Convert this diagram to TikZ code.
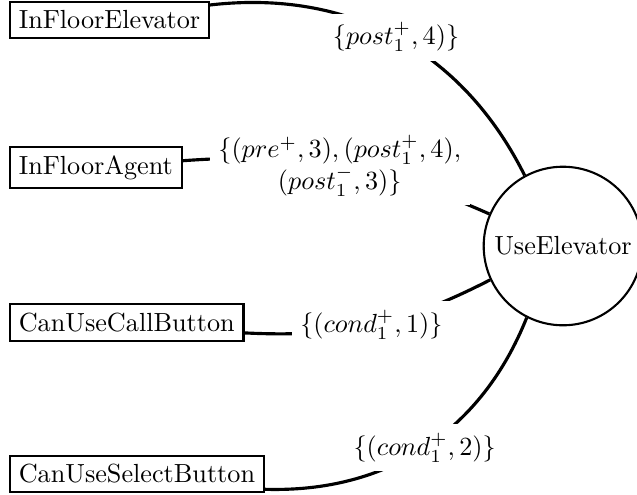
\documentclass[tikz,border=0pt]{standalone}
\usepackage{amsmath,amssymb}
\usepackage{tikz}
\usetikzlibrary{positioning}
\usetikzlibrary{shapes.geometric}
\tikzstyle{fluent} = [rectangle, draw=black, thick, anchor=west]
\tikzstyle{action} = [circle, draw=black, thick]
\tikzstyle{link} = [black, very thick]
\tikzstyle{lbl} = [fill=white, align=center]

\begin{document}
\begin{tikzpicture}
	\useasboundingbox (0,0) rectangle (8.545,-6.640);
	\node (ife) at (0.121,-0.268) [fluent] {InFloorElevator};
	\node (ifa) at (0.121,-2.247) [fluent] {InFloorAgent};
	\node (cucb) at (0.121,-4.326) [fluent] {CanUseCallButton};
	\node (cusb) at (0.121,-6.358) [fluent] {CanUseSelectButton};
	
	\node (ue) at (7.552,-3.300) [action] {UseElevator};
	
	\draw [link] (ife) edge[bend left=35] node[lbl] {$\{post_1^+,4)\}$} (ue);
	\draw [link] (ifa) edge[bend left=14] node[lbl] {$\{(pre^+,3),(post_1^+,4),$\\$(post_1^-,3)\}$} (ue);
	\draw [link] (cucb) edge[bend right=15] node[lbl] {$\{(cond_1^+,1)\}$} (ue);
	\draw [link] (cusb) edge[bend right=35] node[lbl] {$\{(cond_1^+,2)\}$} (ue);
	
\end{tikzpicture}
\end{document}
